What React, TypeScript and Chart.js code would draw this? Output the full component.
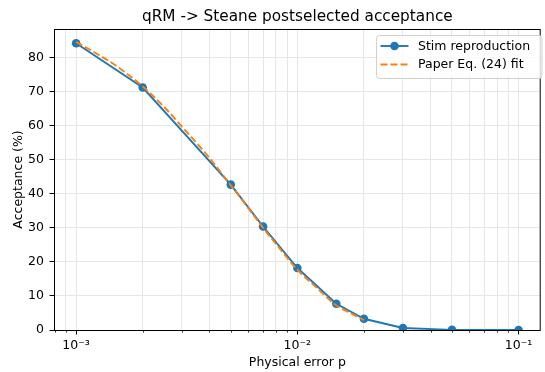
import React, { useEffect, useRef } from 'react';
import { Chart, registerables } from 'chart.js';

Chart.register(...registerables);

// ---- data ----
const stimP = [0.001, 0.002, 0.005, 0.007, 0.01, 0.015, 0.02, 0.03, 0.05, 0.1];
const stimAcceptance = [84.2, 71.2, 42.7, 30.4, 18.2, 7.7, 3.3, 0.6, 0.05, 0.0];

const fitP = [0.001, 0.00125, 0.0015, 0.002, 0.0025, 0.003, 0.004, 0.005, 0.006, 0.007, 0.008, 0.01, 0.012, 0.015, 0.017, 0.02];
const fitAcceptance = [84.6, 81.0, 77.8, 71.5, 65.5, 59.8, 50.6, 42.5, 35.8, 30.0, 25.3, 17.7, 12.9, 7.2, 5.3, 2.9];

const xMajorTicks = [0.001, 0.01, 0.1];
const xMajorLabels = ['10\u207B\u00B3', '10\u207B\u00B2', '10\u207B\u00B9'];
const xMinorTicks = [
  0.0008, 0.0009,
  0.002, 0.003, 0.004, 0.005, 0.006, 0.007, 0.008, 0.009,
  0.02, 0.03, 0.04, 0.05, 0.06, 0.07, 0.08, 0.09,
];
const yTicks = [0, 10, 20, 30, 40, 50, 60, 70, 80];

const titleText = 'qRM -> Steane postselected acceptance';
const xLabel = 'Physical error p';
const yLabel = 'Acceptance (%)';
const seriesLabels = ['Stim reproduction', 'Paper Eq. (24) fit'];

const X_MIN = Math.pow(10, -3.1);
const X_MAX = Math.pow(10, -0.9);
const Y_MIN = 0;
const Y_MAX = 88.4;

const BLUE = '#1f77b4';
const ORANGE = '#ff7f0e';
const GRID = '#e6e6e6';
const FONT = '"DejaVu Sans", sans-serif';
const BASE = 12.5;

const decorPlugin = {
  id: 'decor',
  afterDatasetsDraw(chart: any) {
    const { ctx, chartArea } = chart;
    const { left, right, top, bottom } = chartArea;
    ctx.save();
    const xs = chart.scales.x;
    ctx.strokeStyle = '#000';
    ctx.lineWidth = 0.8;
    xMinorTicks.forEach((v) => {
      const px = Math.round(xs.getPixelForValue(v)) + 0.5;
      if (px < left || px > right) return;
      ctx.beginPath();
      ctx.moveTo(px, bottom);
      ctx.lineTo(px, bottom + 2.6);
      ctx.stroke();
    });
    ctx.strokeStyle = '#000';
    ctx.lineWidth = 1;
    ctx.strokeRect(left + 0.5, top + 0.5, right - left - 1, bottom - top);
    ctx.restore();
  },
  afterDraw(chart: any) {
    const { ctx, chartArea } = chart;
    const { left, right, top, bottom } = chartArea;
    const cx = (left + right) / 2;
    ctx.save();
    ctx.fillStyle = '#000';
    ctx.font = `15.3px ${FONT}`;
    ctx.textAlign = 'center';
    ctx.textBaseline = 'alphabetic';
    ctx.fillText(titleText, cx, 20.5);
    ctx.font = `${BASE}px ${FONT}`;
    ctx.fillText(xLabel, cx, 366);
    ctx.save();
    ctx.translate(22, (top + bottom) / 2);
    ctx.rotate(-Math.PI / 2);
    ctx.fillText(yLabel, 0, 0);
    ctx.restore();

    // legend
    const bx = 376.5, by = 35.5, bw = 165.5, bh = 43, r = 3;
    ctx.beginPath();
    ctx.moveTo(bx + r, by);
    ctx.lineTo(bx + bw - r, by);
    ctx.arcTo(bx + bw, by, bx + bw, by + r, r);
    ctx.lineTo(bx + bw, by + bh - r);
    ctx.arcTo(bx + bw, by + bh, bx + bw - r, by + bh, r);
    ctx.lineTo(bx + r, by + bh);
    ctx.arcTo(bx, by + bh, bx, by + bh - r, r);
    ctx.lineTo(bx, by + r);
    ctx.arcTo(bx, by, bx + r, by, r);
    ctx.closePath();
    ctx.fillStyle = 'rgba(255,255,255,0.8)';
    ctx.fill();
    ctx.strokeStyle = '#d0d0d0';
    ctx.lineWidth = 1;
    ctx.stroke();

    const rows = [46, 64.5];
    const ds = chart.data.datasets;
    rows.forEach((ry, i) => {
      const d = ds[i];
      ctx.beginPath();
      ctx.strokeStyle = d.borderColor;
      ctx.lineWidth = d.borderWidth;
      ctx.setLineDash(d.borderDash || []);
      ctx.moveTo(380.5, ry);
      ctx.lineTo(408.5, ry);
      ctx.stroke();
      ctx.setLineDash([]);
      if (d.pointRadius > 0) {
        ctx.beginPath();
        ctx.fillStyle = d.pointBackgroundColor;
        ctx.arc(394.5, ry, d.pointRadius, 0, Math.PI * 2);
        ctx.fill();
      }
      ctx.fillStyle = '#000';
      ctx.font = `${BASE}px ${FONT}`;
      ctx.textAlign = 'left';
      ctx.textBaseline = 'middle';
      ctx.fillText(d.label, 418, ry + 0.5);
    });
    ctx.restore();
  },
};

export default function App() {
  const canvasRef = useRef<HTMLCanvasElement | null>(null);

  useEffect(() => {
    document.body.style.margin = '0';
    const canvas = canvasRef.current;
    if (!canvas) return;

    const chart = new Chart(canvas, {
      type: 'line',
      data: {
        datasets: [
          {
            label: seriesLabels[0],
            data: stimP.map((p, i) => ({ x: p, y: stimAcceptance[i] })),
            borderColor: BLUE,
            backgroundColor: BLUE,
            pointBackgroundColor: BLUE,
            pointBorderColor: BLUE,
            borderWidth: 1.9,
            pointRadius: 4.3,
            pointBorderWidth: 0,
            pointHoverRadius: 4.3,
            fill: false,
            tension: 0,
            order: 2,
            clip: 0,
          } as any,
          {
            label: seriesLabels[1],
            data: fitP.map((p, i) => ({ x: p, y: fitAcceptance[i] })),
            borderColor: ORANGE,
            backgroundColor: ORANGE,
            borderWidth: 1.9,
            borderDash: [7, 3],
            pointRadius: 0,
            pointHoverRadius: 0,
            fill: false,
            cubicInterpolationMode: 'monotone',
            order: 1,
            clip: 0,
          } as any,
        ],
      },
      options: {
        animation: false,
        responsive: false,
        devicePixelRatio: 1,
        layout: { padding: { top: 29, right: 1, bottom: 0, left: 0 } },
        plugins: {
          legend: { display: false },
          title: { display: false },
          tooltip: { enabled: false },
        },
        scales: {
          x: {
            type: 'logarithmic',
            min: X_MIN,
            max: X_MAX,
            afterFit: (scale: any) => {
              scale.height = 42;
            },
            afterBuildTicks: (scale: any) => {
              const all = [
                ...xMinorTicks.map((v) => ({ value: v, major: false })),
                ...xMajorTicks.map((v) => ({ value: v, major: true })),
              ].sort((a, b) => a.value - b.value);
              scale.ticks = all;
            },
            border: { display: false },
            grid: {
              color: GRID,
              lineWidth: 1,
              drawTicks: true,
              tickLength: 4.5,
              tickWidth: 1,
              tickColor: (ctx: any) => (ctx.tick && ctx.tick.major ? '#000' : 'rgba(0,0,0,0)'),
            },
            ticks: {
              autoSkip: false,
              maxRotation: 0,
              minRotation: 0,
              padding: 3.5,
              color: '#000',
              font: { family: FONT, size: BASE },
              callback: (value: any) => {
                const idx = xMajorTicks.findIndex((m) => Math.abs(m - Number(value)) / m < 1e-6);
                return idx >= 0 ? xMajorLabels[idx] : '';
              },
            },
          },
          y: {
            type: 'linear',
            min: Y_MIN,
            max: Y_MAX,
            afterFit: (scale: any) => {
              scale.width = 54;
            },
            afterBuildTicks: (scale: any) => {
              scale.ticks = yTicks.map((v) => ({ value: v }));
            },
            border: { display: false },
            grid: {
              color: GRID,
              lineWidth: 1,
              drawTicks: true,
              tickLength: 4.5,
              tickWidth: 1,
              tickColor: '#000',
            },
            ticks: {
              padding: 5.5,
              color: '#000',
              font: { family: FONT, size: BASE },
              callback: (value: any) => String(value),
            },
          },
        },
      },
      plugins: [decorPlugin],
    });

    return () => {
      chart.destroy();
    };
  }, []);

  return (
    <div style={{ width: 545, height: 372 }}>
      <canvas ref={canvasRef} width={545} height={372} style={{ display: 'block', width: 545, height: 372 }} />
    </div>
  );
}
